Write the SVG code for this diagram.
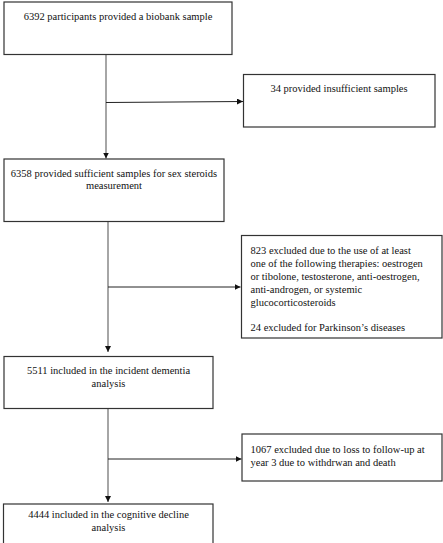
<svg xmlns="http://www.w3.org/2000/svg" width="443" height="543" viewBox="0 0 443 543">
<defs>
  <marker id="ah" viewBox="0 0 10 10" refX="10" refY="5" markerWidth="6" markerHeight="6" markerUnits="userSpaceOnUse" orient="auto">
    <path d="M0,0 L10,5 L0,10 z" fill="#111"/>
  </marker>
</defs>
<rect width="443" height="543" fill="#fff"/>
<g id="connectors" fill="none">
  <g stroke="#808080" stroke-width="1.4">
    <line x1="106" y1="54.5" x2="106" y2="158.5" marker-end="url(#ah)"/>
    <line x1="108" y1="222" x2="108" y2="352" marker-end="url(#ah)"/>
    <line x1="108" y1="408.5" x2="108" y2="502" marker-end="url(#ah)"/>
  </g>
  <g stroke="#222" stroke-width="1">
    <line x1="106" y1="102.5" x2="243" y2="101.5" marker-end="url(#ah)"/>
    <line x1="108" y1="287" x2="240.5" y2="287" marker-end="url(#ah)"/>
    <line x1="108" y1="459" x2="241.5" y2="459" marker-end="url(#ah)"/>
  </g>
</g>
<g id="nodes" font-family="Liberation Serif" font-size="10.5">
<g id="n1">
  <rect x="4" y="2" width="228" height="52.5" fill="#fff" stroke="#333" stroke-width="1.2"/>
  <text x="118" y="19.5" text-anchor="middle" fill="#111">6392 participants provided a biobank sample</text>
</g>
<g id="n2">
  <rect x="243.5" y="74.5" width="191.5" height="52.5" fill="#fff" stroke="#333" stroke-width="1.2"/>
  <text x="339" y="92" text-anchor="middle" fill="#111">34 provided insufficient samples</text>
</g>
<g id="n3" text-anchor="middle" fill="#111">
  <rect x="4" y="159" width="220" height="62.5" fill="#fff" stroke="#333" stroke-width="1.2"/>
  <text x="114" y="176.5">6358 provided sufficient samples for sex steroids</text>
  <text x="114" y="189">measurement</text>
</g>
<g id="n4" fill="#111">
  <rect x="241.5" y="235.5" width="200.5" height="102.5" fill="#fff" stroke="#333" stroke-width="1.2"/>
  <text x="250.5" y="253.5">823 excluded due to the use of at least</text>
  <text x="250.5" y="266.5">one of the following therapies: oestrogen</text>
  <text x="250.5" y="279.5">or tibolone, testosterone, anti-oestrogen,</text>
  <text x="250.5" y="292.5">anti-androgen, or systemic</text>
  <text x="250.5" y="305.5">glucocorticosteroids</text>
  <text x="250.5" y="331">24 excluded for Parkinson’s diseases</text>
</g>
<g id="n5" text-anchor="middle" fill="#111">
  <rect x="4" y="356.5" width="209" height="52" fill="#fff" stroke="#333" stroke-width="1.2"/>
  <text x="108.5" y="374">5511 included in the incident dementia</text>
  <text x="108.5" y="387">analysis</text>
</g>
<g id="n6" fill="#111">
  <rect x="242" y="434" width="200" height="47" fill="#fff" stroke="#333" stroke-width="1.2"/>
  <text x="250.5" y="452.5">1067 excluded due to loss to follow-up at</text>
  <text x="250.5" y="465.5">year 3 due to withdrwan and death</text>
</g>
<g id="n7" text-anchor="middle" fill="#111">
  <rect x="3.5" y="504" width="209.5" height="45" fill="#fff" stroke="#333" stroke-width="1.2"/>
  <text x="108.5" y="518">4444 included in the cognitive decline</text>
  <text x="108.5" y="531">analysis</text>
</g>
</g>
</svg>
